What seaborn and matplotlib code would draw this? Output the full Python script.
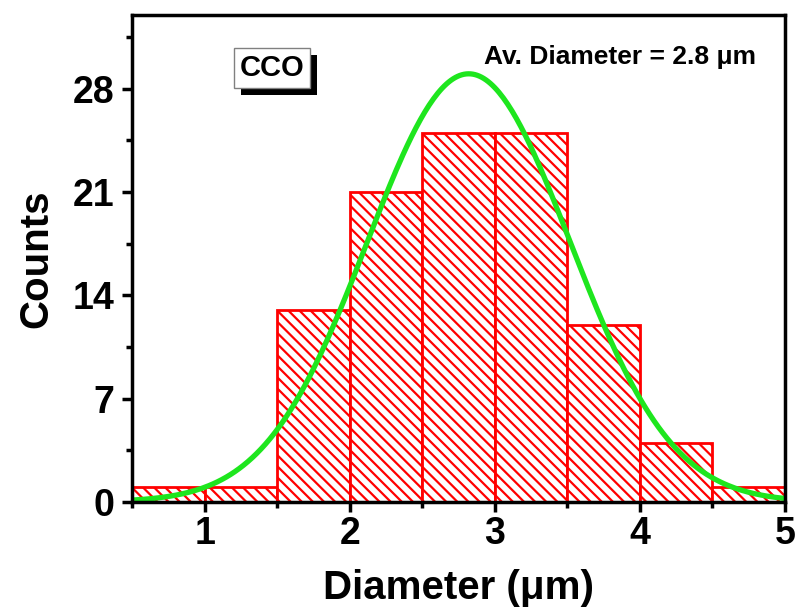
import numpy as np
import matplotlib
matplotlib.use("Agg")
import matplotlib.pyplot as plt
import matplotlib.patheffects as pe
import seaborn as sns
from matplotlib.ticker import MultipleLocator

# histogram counts, bins of 0.5 um
bin_edges = [0.5, 1.0, 1.5, 2.0, 2.5, 3.0, 3.5, 4.0, 4.5, 5.0]
counts = [1, 1, 13, 21, 25, 25, 12, 4, 1]

# gaussian fit params
fit_center = 2.82
fit_sigma = 0.70
fit_amp = 29.0

sns.set_style("ticks", {"axes.edgecolor": "black", "text.color": "black",
                        "xtick.color": "black", "ytick.color": "black",
                        "axes.labelcolor": "black"})
plt.rcParams["font.family"] = ["Liberation Sans", "DejaVu Sans"]
plt.rcParams["font.weight"] = "bold"
plt.rcParams["hatch.color"] = "red"
plt.rcParams["hatch.linewidth"] = 1.6

centers = [(bin_edges[i] + bin_edges[i + 1]) / 2 for i in range(len(counts))]

fig = plt.figure(figsize=(8.01, 6.15), dpi=100)
ax = fig.add_axes([0.165, 0.184, 0.815, 0.792])

sns.histplot(x=centers, weights=counts, bins=bin_edges, ax=ax,
             facecolor="white", edgecolor="red", linewidth=2, hatch="\\\\\\",
             alpha=1)

xs = np.linspace(0.5, 5.0, 300)
ys = fit_amp * np.exp(-(xs - fit_center) ** 2 / (2 * fit_sigma ** 2))
sns.lineplot(x=xs, y=ys, ax=ax, color="#1ee61e", linewidth=3.8)

ax.set_xlim(0.5, 5.0)
ax.set_ylim(0, 33)
ax.xaxis.set_major_locator(MultipleLocator(1))
ax.xaxis.set_minor_locator(MultipleLocator(0.5))
ax.yaxis.set_major_locator(MultipleLocator(7))
ax.yaxis.set_minor_locator(MultipleLocator(3.5))
ax.tick_params(which="major", direction="out", length=7, width=2.5, labelsize=27,
               colors="black")
ax.tick_params(axis="y", which="major", pad=6)
ax.tick_params(which="minor", direction="out", length=4, width=2.5, colors="black")
ax.tick_params(top=False, right=False, which="both")
for s in ax.spines.values():
    s.set_linewidth(2.5)
    s.set_color("black")
    s.set_visible(True)

ax.set_xlabel("Diameter (\u03bcm)", fontsize=29, fontweight="bold", labelpad=12)
ax.set_ylabel("Counts", fontsize=29, fontweight="bold", labelpad=12)

# CCO label with drop shadow
t = ax.text(0.214, 0.891, "CCO", transform=ax.transAxes, ha="center", va="center",
            fontsize=21, fontweight="bold", color="black",
            bbox=dict(boxstyle="square,pad=0.2", facecolor="white", edgecolor="gray",
                      linewidth=1),
            zorder=6)
t.get_bbox_patch().set_path_effects([
    pe.SimplePatchShadow(offset=(5, -5), shadow_rgbFace="black", alpha=1),
    pe.Normal()])

ax.text(0.539, 0.914, "Av. Diameter = 2.8 \u03bcm", transform=ax.transAxes,
        ha="left", va="center", fontsize=19, fontweight="bold")

fig.savefig("out.png", dpi=100)
